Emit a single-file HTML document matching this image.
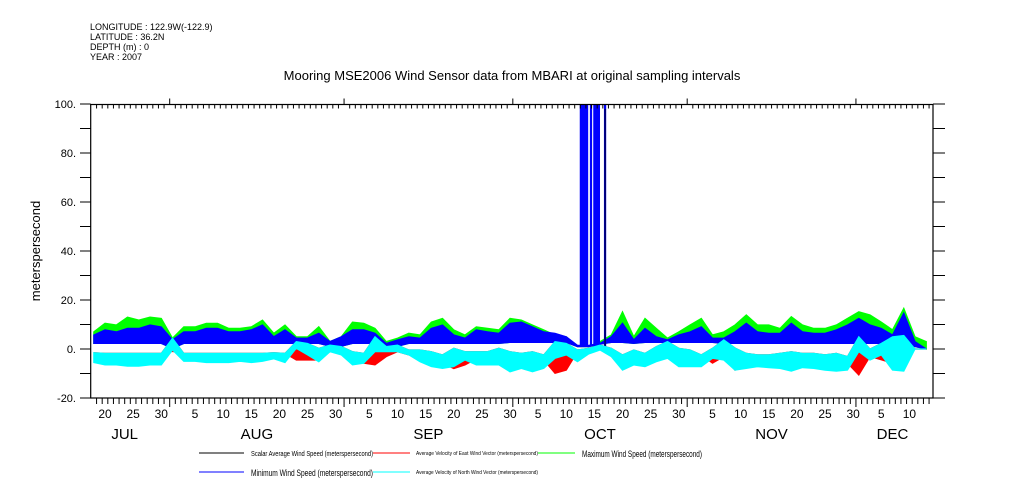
<!DOCTYPE html>
<html><head><meta charset="utf-8"><style>
body{margin:0;background:#fff;width:1009px;height:504px;overflow:hidden;font-family:"Liberation Sans",sans-serif}
svg{display:block}
</style></head><body>
<svg id="chart" width="1009" height="504" xmlns="http://www.w3.org/2000/svg" font-family="Liberation Sans, sans-serif">
<g font-size="9" fill="#000">
<text x="90" y="30">LONGITUDE : 122.9W(-122.9)</text>
<text x="90" y="40">LATITUDE : 36.2N</text>
<text x="90" y="50">DEPTH (m) : 0</text>
<text x="90" y="60">YEAR : 2007</text>
</g>
<text x="512" y="80" font-size="13" text-anchor="middle">Mooring MSE2006 Wind Sensor data from MBARI at original sampling intervals</text>
<text transform="translate(40,251) rotate(-90)" font-size="13" text-anchor="middle">meterspersecond</text>
<g id="series"></g>
<g id="axes"></g>
<g>
<line x1="199" y1="453" x2="244" y2="453" stroke="#000"/>
<text x="251" y="456" font-size="7" textLength="122" lengthAdjust="spacingAndGlyphs">Scalar Average Wind Speed (meterspersecond)</text>
<line x1="373" y1="453" x2="410" y2="453" stroke="#f00"/>
<text x="416" y="455" font-size="5.5" textLength="122" lengthAdjust="spacingAndGlyphs">Average Velocity of East Wind Vector (meterspersecond)</text>
<line x1="538" y1="453" x2="575" y2="453" stroke="#0f0"/>
<text x="582" y="457" font-size="9" textLength="120" lengthAdjust="spacingAndGlyphs">Maximum Wind Speed (meterspersecond)</text>
<line x1="199" y1="472" x2="244" y2="472" stroke="#00f"/>
<text x="251" y="476" font-size="9" textLength="122" lengthAdjust="spacingAndGlyphs">Minimum Wind Speed (meterspersecond)</text>
<line x1="373" y1="472" x2="410" y2="472" stroke="#0ff"/>
<text x="416" y="474" font-size="5.5" textLength="122" lengthAdjust="spacingAndGlyphs">Average Velocity of North Wind Vector (meterspersecond)</text>
</g>
</svg>
<script>
// data: 2-day samples starting Jul 18 (day index 0,2,...,148)
const green=[7,10.5,9.8,13,11.8,13,12.5,4.4,9,9,10.5,10.5,8.4,8.4,9,11.8,6.4,9.8,5,
5,9.1,3,5,11,10.5,8.4,3,4.4,6.4,5.7,11,12.5,7.8,5.7,9,8.4,7.8,
12.5,11.8,9.8,7.8,5.7,5,1,1,3,5.7,15.2,5,12.5,8.4,4.4,7,9.8,12.5,5.7,
7,9.8,13.9,9.8,9.8,8.4,13.2,9.8,8.4,8.4,9.8,12.5,15.2,13.9,11,7.8,16.6,5,3];
const blueHi=[5.7,7.8,7,8.4,8.4,9.8,9,3.7,7,7,8.4,8.4,7,7,7.8,9.8,5,7.8,4.4,
4.4,6.4,3,5,7.8,7.8,6.4,2.3,3.7,5,4.4,8.4,9.8,5.7,4.4,7.8,7,6.4,
10.5,11,9,7,6.4,5,1.5,1.5,2.3,5,10.5,3.7,8.4,5,3.7,5.7,7,9,4.4,
4.4,7,10.5,7,6.4,6.4,10.5,7,6.4,6.4,7.8,9.8,12.5,9.8,8.4,5.7,14.6,3,0];
const blueLo=[2.3,2.3,2.3,2.3,2.3,2.3,2.3,0.3,2.3,2.3,2.3,2.3,2.3,2.3,2.3,2.3,2.3,2.3,2.3,
2.3,2.3,1.1,1.1,2.3,2.3,2.3,0.8,1.1,2.3,2.3,2.3,2.3,2.3,2.3,2.3,2.3,2.3,
2.7,2.7,2.7,2.7,2.7,2.7,1,1,2,2.7,2.7,2.3,2.7,2.7,2.7,2.7,2.7,2.7,2.7,
2.3,2.3,2.3,2.3,2.3,2.3,2.3,2.3,2.3,2.3,2.3,2.3,2.3,2.3,2.3,2.3,2.3,1,0];
const cyanHi=[-1.5,-1.8,-1.8,-1.8,-1.8,-1.8,-1.8,4.4,-1.8,-1.8,-1.8,-1.8,-1.8,-1.8,-1.8,-1.8,-1.5,-1.8,3,
2.3,0.3,1.6,1,-1.1,-1.8,5,1,1.6,-0.4,-0.4,-1.1,-2.4,0.3,-1.1,-1.1,-1.1,0.3,
-1.1,-1.8,-1.1,-2.4,3,2.3,-0.4,0.3,1.6,0.3,-2.4,-0.4,-1.8,1,3,0.3,-0.4,-2.4,0.3,
3.7,0.4,-1.8,-2.4,-2.4,-1.8,-1.1,-1.8,-1.8,-2.4,-1.8,-3.1,5,0,2.3,5,5.5,0,0];
const cyanLo=[-5.5,-6.5,-6.5,-7,-7,-6.5,-6.5,-0.4,-5,-5,-5.5,-5.5,-5.5,-5,-5.5,-5,-4,-5.5,0.3,
-2.4,-5.2,-1.1,-2.4,-6.5,-5.8,-1.1,-1.1,-1.1,-2.4,-5.2,-7.2,-7.9,-7.2,-4.5,-6.5,-6.5,-6.5,
-9.3,-7.9,-9.3,-7.9,-3.8,-2.4,-5.2,-2,-0.4,-3.1,-8.6,-6.5,-7.2,-5.2,-3.8,-7.2,-7.2,-7.2,-3.8,
-4.5,-8.6,-7.9,-7.2,-7.6,-7.9,-9,-7.6,-7.9,-8.6,-9,-8.6,-1.1,-4.5,-2.4,-8.6,-9,0,0];
const redLo=[1.6,1.6,1.6,1.6,1.6,1.6,1.6,-1,1.6,1.6,1.6,1,1.6,1.6,1.6,1.6,1.6,1.6,-4.5,
-4.5,-4.5,-1.1,-1.1,-4,-5.8,-6.5,-3.1,-1.1,-2.4,-3.1,-5.2,-5.8,-8,-6.5,-4,-3.1,-2.4,
-2.4,-1.8,-1.8,-4.5,-9.9,-8.6,-1.1,0.3,1,-1.1,-0.4,-1.1,-1.8,-4.5,-0.4,-0.4,-1.1,-2.4,-5.8,
-3.1,-8.6,-3,-1,-1,-1,-1,-1,-1,-1.5,-2.4,-5.8,-10.6,-3.1,-4.4,-5.8,-3,0,0];
const spikeStart=[86.4,88.2,88.8,90.7];
const spikeEnd=[87.9,88.6,90.0,91.1];
const spikeValue=[100,100,100,100];
const blackSpikeDay=[90.9];
const blackSpikeVal=[98];
const yTicks=[-20,0,20,40,60,80,100];
const yTickLabels=["-20.","0.","20.","40.","60.","80.","100."];
const monthNames=["JUL","AUG","SEP","OCT","NOV","DEC"];
const monthStartDay=[-17,14,45,75,106,136];
const monthLen=[31,31,30,31,30,31];

const NS="http://www.w3.org/2000/svg";
const X0=90.94, PX=5.625, L=90.7, R=933, T=104.5, B=398;
function xd(d){return X0+(d+0.5)*PX;}
function xb(d){return X0+d*PX;}
function yv(v){return 349-v*2.45;}
function mk(tag,attrs,parent){const e=document.createElementNS(NS,tag);for(const k in attrs)e.setAttribute(k,attrs[k]);parent.appendChild(e);return e;}
const S=document.getElementById('series'), A=document.getElementById('axes');
function band(lo,hi,color,name){
  let pts=[];
  for(let i=0;i<hi.length;i++)pts.push(xd(i*2).toFixed(1)+","+yv(hi[i]).toFixed(1));
  for(let i=lo.length-1;i>=0;i--)pts.push(xd(i*2).toFixed(1)+","+yv(lo[i]).toFixed(1));
  const p=mk('polygon',{points:pts.join(" "),fill:color,stroke:color,'stroke-width':1.2},S);
  
  
}
band(redLo.map((v,i)=>Math.min(v,cyanHi[i])),cyanHi,'#ff0000','east-velocity-series');
band(blueLo,green,'#00ff00','maximum-speed-series');
band(blueLo,blueHi,'#0000ff','minimum-speed-series');
for(let i=0;i<spikeStart.length;i++){
  const r=mk('rect',{x:xd(spikeStart[i]),y:yv(spikeValue[i]),width:xd(spikeEnd[i])-xd(spikeStart[i]),height:yv(1)-yv(spikeValue[i]),fill:'#0000ff'},S);
  
  
}
for(let i=0;i<blackSpikeDay.length;i++){
  const l=mk('line',{x1:xd(blackSpikeDay[i]),x2:xd(blackSpikeDay[i]),y1:yv(0),y2:yv(blackSpikeVal[i]),stroke:'#000','stroke-width':1},S);
  
  
}
band(cyanLo,cyanHi,'#00ffff','north-velocity-series');

const f=mk('rect',{x:L,y:T,width:R-L,height:B-T,fill:'none',stroke:'#000','stroke-width':1.2},A);


for(let i=0;i<yTicks.length;i++){
  const y=yv(yTicks[i]);
  mk('line',{x1:80,x2:L,y1:y,y2:y,stroke:'#000'},A);
  mk('line',{x1:R,x2:945,y1:y,y2:y,stroke:'#000'},A);
  const t=mk('text',{x:76,y:y+4,'font-size':11,'text-anchor':'end'},A);
  t.textContent=yTickLabels[i];
  
  
  if(i<yTicks.length-1){
    const ym=yv(yTicks[i]+10);
    mk('line',{x1:80,x2:L,y1:ym,y2:ym,stroke:'#000'},A);
    mk('line',{x1:R,x2:945,y1:ym,y2:ym,stroke:'#000'},A);
  }
}
for(let d=1;d<150;d++){
  const x=xb(d);
  if(x>=R)break;
  const isMonth=monthStartDay.includes(d);
  mk('line',{x1:x,x2:x,y1:B,y2:B+(isMonth?9:6),stroke:'#000'},A);
  mk('line',{x1:x,x2:x,y1:T,y2:isMonth?T-6:T+4,stroke:'#000'},A);
}
for(let m=0;m<monthNames.length;m++){
  for(let day=5;day<=monthLen[m];day+=5){
    const d=monthStartDay[m]+day-1;
    const x=xd(d);
    if(x<L||x>R-4)continue;
    const t=mk('text',{x:x,y:418,'font-size':12,'text-anchor':'middle'},A);
    t.textContent=String(day);
    
    
  }
  const s=Math.max(monthStartDay[m],-2), e=Math.min(monthStartDay[m]+monthLen[m],149);
  const mt=mk('text',{x:(xb(s)+xb(e))/2,y:439,'font-size':15,'text-anchor':'middle'},A);
  mt.textContent=monthNames[m];
  
  
}
</script>
</body></html>
